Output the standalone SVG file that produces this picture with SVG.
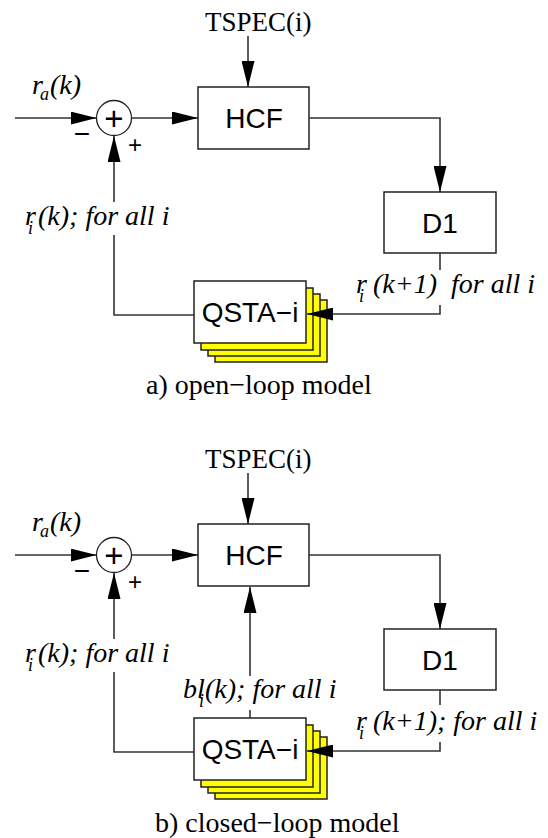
<svg xmlns="http://www.w3.org/2000/svg" width="548" height="838" viewBox="0 0 548 838">
<defs>
<marker id="ah" viewBox="0 0 26 13" refX="26" refY="6.5" markerWidth="26" markerHeight="13" markerUnits="userSpaceOnUse" orient="auto">
<path d="M0,0 L26,6.5 L0,13 z" fill="#000"/>
</marker>
<style>
.box{fill:#fff;stroke:#222;stroke-width:1.5}
.ybox{fill:#ffff00;stroke:#222;stroke-width:1.5}
.sum{fill:#fff;stroke:#222;stroke-width:1.3}
.ln{fill:none;stroke:#333;stroke-width:1.6}
.arr{fill:none;stroke:#333;stroke-width:1.6;marker-end:url(#ah)}
.hv{font-family:"Liberation Sans",Arial,Helvetica,sans-serif;font-size:28px;fill:#000;text-anchor:middle}
.sg{font-family:"Liberation Sans",Arial,Helvetica,sans-serif;fill:#000;text-anchor:middle}
.tm{font-family:"Liberation Serif","Times New Roman",serif;font-size:27px;fill:#000}
.it{font-family:"Liberation Serif","Times New Roman",Times,serif;font-size:28px;font-style:italic;fill:#000}
.sub{font-size:18px}
.cap{font-family:"Liberation Serif","Times New Roman",serif;font-size:28px;fill:#000}
</style>
</defs>

<!-- ========== a) open-loop ========== -->
<g id="tspec-a"><text class="tm" x="205" y="31">TSPEC(i)</text></g>
<g id="ra-a"><text class="it" x="32" y="94">r<tspan class="sub" x="40" y="100">a</tspan><tspan x="50" y="94">(k)</tspan></text></g>

<g id="sum-a">
<circle class="sum" cx="114" cy="118" r="17.5"/>
<text class="sg" x="114" y="129.5" font-size="33">+</text>
<text class="sg" x="82" y="143" font-size="28">−</text>
<text class="sg" x="135" y="153" font-size="24">+</text>
</g>

<g id="hcf-a">
<rect class="box" x="198" y="87" width="111" height="62"/>
<text class="hv" x="254" y="128">HCF</text>
</g>

<g id="d1-a">
<rect class="box" x="384" y="192" width="112" height="61"/>
<text class="hv" x="440" y="233">D1</text>
</g>

<g id="qsta-a">
<rect class="ybox" x="215" y="300" width="112" height="62"/>
<rect class="ybox" x="208" y="294" width="112" height="62"/>
<rect class="ybox" x="201" y="288" width="112" height="62"/>
<rect class="box" x="194" y="281" width="112" height="62"/>
<text class="hv" x="250" y="322">QSTA−i</text>
</g>

<g id="label-ri-a"><text class="it" x="25" y="225">r<tspan class="sub" x="28" y="234">i</tspan><tspan x="38" y="225">(k); for all i</tspan></text></g>
<g id="label-rik1-a"><text class="it" x="356" y="293">r<tspan class="sub" x="359" y="302">i</tspan><tspan x="373" y="293">(k+1)&#160; for all i</tspan></text></g>

<g id="caption-a"><text class="cap" x="146" y="394">a) open−loop model</text></g>

<g id="connectors-a">
<path class="arr" d="M248,36 V87"/>
<path class="arr" d="M15,118 H96.5"/>
<path class="arr" d="M131.5,118 H198"/>
<path class="arr" d="M309,118 H440 V192"/>
<path class="ln" d="M440,253 V270"/>
<path class="arr" d="M440,305 V314 H307"/>
<path class="ln" d="M194,315 H114 V235"/>
<path class="arr" d="M114,202 V136"/>
</g>

<!-- ========== b) closed-loop ========== -->
<g id="tspec-b"><text class="tm" x="205" y="468">TSPEC(i)</text></g>
<g id="ra-b"><text class="it" x="32" y="531">r<tspan class="sub" x="40" y="537">a</tspan><tspan x="50" y="531">(k)</tspan></text></g>

<g id="sum-b">
<circle class="sum" cx="114" cy="555" r="17.5"/>
<text class="sg" x="114" y="566.5" font-size="33">+</text>
<text class="sg" x="82" y="580" font-size="28">−</text>
<text class="sg" x="135" y="590" font-size="24">+</text>
</g>

<g id="hcf-b">
<rect class="box" x="198" y="524" width="111" height="62"/>
<text class="hv" x="254" y="565">HCF</text>
</g>

<g id="d1-b">
<rect class="box" x="384" y="629" width="112" height="61"/>
<text class="hv" x="440" y="670">D1</text>
</g>

<g id="qsta-b">
<rect class="ybox" x="215" y="737" width="112" height="62"/>
<rect class="ybox" x="208" y="731" width="112" height="62"/>
<rect class="ybox" x="201" y="725" width="112" height="62"/>
<rect class="box" x="194" y="718" width="112" height="62"/>
<text class="hv" x="250" y="759">QSTA−i</text>
</g>

<g id="label-ri-b"><text class="it" x="25" y="662">r<tspan class="sub" x="28" y="671">i</tspan><tspan x="38" y="662">(k); for all i</tspan></text></g>
<g id="label-bl-b"><text class="it" x="183" y="698">bl<tspan class="sub" x="199" y="707">i</tspan><tspan x="205" y="698">(k); for all i</tspan></text></g>
<g id="label-rik1-b"><text class="it" x="356" y="730">r<tspan class="sub" x="359" y="739">i</tspan><tspan x="373" y="730">(k+1); for all i</tspan></text></g>

<g id="caption-b"><text class="cap" x="155" y="832">b) closed−loop model</text></g>

<g id="connectors-b">
<path class="arr" d="M248,473 V524"/>
<path class="arr" d="M15,555 H96.5"/>
<path class="arr" d="M131.5,555 H198"/>
<path class="arr" d="M309,555 H440 V629"/>
<path class="ln" d="M440,690 V705"/>
<path class="arr" d="M440,742 V751 H307"/>
<path class="ln" d="M194,752 H114 V672"/>
<path class="arr" d="M114,639 V573"/>
<path class="ln" d="M250,718 V710"/>
<path class="arr" d="M250,676 V587"/>
</g>
</svg>
